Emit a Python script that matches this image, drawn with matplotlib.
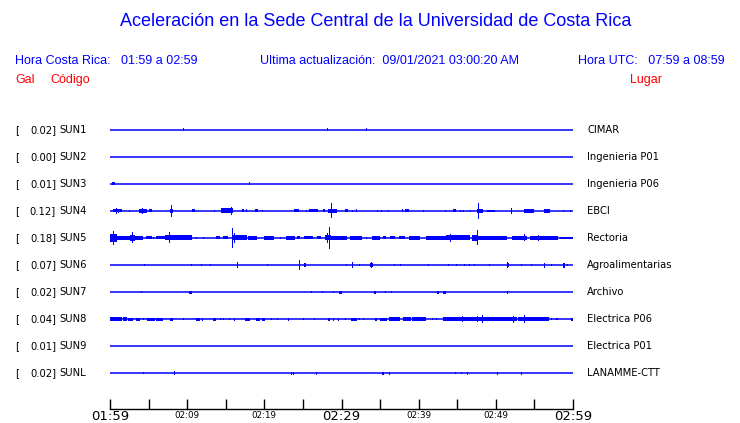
import matplotlib
matplotlib.use("Agg")
import matplotlib.pyplot as plt
from matplotlib.transforms import blended_transform_factory

# ---------------- data ----------------
codes = ["SUN1", "SUN2", "SUN3", "SUN4", "SUN5", "SUN6", "SUN7", "SUN8", "SUN9", "SUNL"]
peaks = ["0.02", "0.00", "0.01", "0.12", "0.18", "0.07", "0.02", "0.04", "0.01", "0.02"]
places = ["CIMAR", "Ingenieria P01", "Ingenieria P06", "EBCI", "Rectoria",
          "Agroalimentarias", "Archivo", "Electrica P06", "Electrica P01", "LANAMME-CTT"]

# bursts per station: (start minute, end minute, half amplitude in px) minutes after 01:59
sun1 = [(9.4, 9.4, 1.5), (28.1, 28.1, 1.5), (33.2, 33.2, 1.5)]
sun2 = []
sun3 = [(0.3, 0.6, 1.5), (18.0, 18.1, 1.5)]
sun4 = [(0.4, 1.5, 1.5), (0.8, 0.8, 3.0), (1.1, 1.1, 2.0), (2.5, 2.5, 1.0), (3.8, 4.8, 2.0),
        (4.2, 4.2, 3.0), (5.0, 5.4, 1.5), (7.8, 8.2, 2.0), (7.9, 7.9, 6.0), (10.6, 11.0, 1.5),
        (13.5, 13.5, 1.0), (14.4, 15.9, 2.5), (15.7, 15.7, 4.0), (17.1, 17.4, 1.5), (17.6, 17.8, 1.5),
        (18.8, 19.2, 1.5), (19.7, 19.7, 1.0), (23.8, 24.5, 1.5), (25.4, 25.4, 1.0), (25.8, 27.0, 1.5),
        (27.6, 27.9, 1.5), (28.2, 29.4, 2.0), (28.7, 28.7, 7.5), (30.5, 30.9, 1.5), (31.3, 31.3, 1.0),
        (31.9, 31.9, 1.5), (34.6, 34.6, 1.0), (35.1, 35.1, 1.0), (36.0, 36.0, 1.0), (37.8, 37.8, 1.5),
        (38.2, 38.7, 1.5), (40.5, 40.5, 1.0), (43.4, 43.4, 1.0), (44.4, 44.9, 1.5), (45.4, 45.4, 1.0),
        (45.7, 45.7, 1.0), (46.6, 46.6, 1.0), (47.5, 48.4, 2.0), (47.7, 47.7, 8.0), (48.8, 49.9, 1.0),
        (52.0, 52.0, 3.0), (53.6, 54.9, 2.0), (56.2, 57.0, 2.0), (58.7, 58.7, 1.0), (59.6, 59.6, 1.0)]
sun5 = [(0.0, 0.9, 4.0), (0.4, 0.4, 7.0), (0.9, 2.6, 2.0), (2.6, 3.2, 3.0), (2.9, 2.9, 5.5),
        (3.2, 4.3, 2.0), (4.7, 5.4, 1.5), (5.6, 5.6, 1.0), (6.0, 7.1, 1.5), (7.1, 7.8, 2.5),
        (7.6, 7.6, 5.5), (7.8, 10.6, 2.5), (11.2, 11.2, 1.0), (12.0, 12.0, 1.0), (13.8, 14.2, 1.5),
        (14.7, 15.3, 1.5), (15.8, 15.8, 10.0), (15.8, 17.7, 2.5), (16.1, 16.1, 5.0), (17.9, 19.0, 2.0),
        (19.9, 21.2, 2.0), (22.0, 22.0, 1.0), (22.8, 24.0, 2.0), (24.2, 24.6, 1.5), (25.1, 26.3, 1.5),
        (26.8, 27.4, 1.5), (27.9, 28.7, 2.5), (28.1, 28.1, 5.0), (28.4, 28.4, 11.0), (28.7, 30.7, 2.0),
        (31.1, 32.6, 2.0), (33.2, 33.2, 1.0), (34.0, 35.0, 2.0), (35.4, 35.8, 1.5), (36.3, 36.9, 1.5),
        (37.4, 38.2, 1.5), (38.8, 40.2, 2.0), (41.0, 43.6, 2.0), (43.6, 46.6, 2.5), (44.1, 44.1, 4.0),
        (46.9, 47.7, 3.0), (47.5, 47.5, 7.5), (47.7, 51.4, 2.0), (52.1, 54.0, 2.0), (53.6, 53.6, 3.5),
        (54.4, 58.1, 2.0), (55.5, 55.5, 3.0), (58.3, 60.0, 1.0)]
sun6 = [(4.4, 4.4, 1.0), (10.5, 10.5, 1.0), (11.8, 11.8, 0.8), (13.0, 13.0, 1.0), (16.5, 16.5, 3.3),
        (20.3, 20.4, 1.0), (24.5, 24.5, 5.3), (25.1, 25.4, 1.8), (30.6, 30.6, 0.8), (31.4, 31.4, 3.0),
        (32.3, 32.3, 1.0), (33.7, 34.1, 2.0), (33.8, 33.8, 3.0), (36.8, 36.8, 1.0), (37.6, 37.6, 1.0),
        (41.2, 41.2, 0.8), (43.8, 43.8, 1.0), (44.8, 44.9, 1.0), (45.9, 45.9, 1.0), (46.5, 46.5, 1.0),
        (47.2, 47.2, 1.0), (49.1, 49.1, 1.0), (51.4, 51.7, 2.0), (51.5, 51.5, 3.0), (53.2, 53.2, 0.8),
        (54.6, 54.6, 1.0), (56.3, 56.3, 2.5), (57.2, 57.2, 1.0), (58.7, 58.9, 2.5), (59.2, 59.2, 1.0)]
sun7 = [(4.0, 4.1, 1.0), (10.3, 10.6, 1.5), (26.1, 26.1, 1.0), (27.5, 27.5, 1.0), (28.9, 28.9, 1.0),
        (29.7, 30.0, 1.5), (34.2, 34.5, 1.5), (35.6, 35.6, 0.8), (36.4, 36.4, 1.0), (42.4, 42.6, 1.5),
        (43.1, 43.5, 1.5), (51.4, 51.4, 1.5)]
sun8 = [(0.0, 1.5, 1.7), (1.7, 2.2, 1.7), (2.3, 3.0, 1.5), (3.4, 3.9, 1.5), (4.3, 4.3, 1.0),
        (4.8, 5.8, 1.5), (6.0, 6.9, 1.5), (7.8, 8.1, 1.5), (9.5, 9.5, 0.8), (11.1, 11.7, 1.5),
        (11.9, 12.1, 1.5), (13.3, 13.8, 1.5), (14.3, 14.3, 1.0), (14.6, 14.6, 0.8), (15.4, 15.4, 0.8),
        (16.1, 16.1, 1.5), (17.5, 18.1, 1.5), (18.9, 19.4, 1.5), (19.7, 20.1, 1.5), (20.9, 20.9, 1.0),
        (21.7, 21.7, 0.8), (23.1, 23.1, 1.5), (25.0, 25.0, 0.8), (26.5, 26.5, 0.8), (28.2, 28.5, 1.5),
        (28.9, 28.9, 1.5), (29.5, 29.7, 1.5), (30.4, 30.4, 1.0), (31.2, 32.0, 1.5), (32.3, 32.3, 1.0),
        (32.8, 32.8, 1.0), (34.3, 34.6, 1.5), (35.0, 35.9, 1.5), (36.1, 37.6, 1.7), (38.0, 39.0, 1.7),
        (39.2, 41.0, 1.7), (41.7, 41.7, 1.0), (42.3, 42.3, 1.0), (43.2, 47.9, 1.7), (45.6, 45.6, 3.0),
        (47.5, 47.5, 3.0), (47.9, 52.7, 1.7), (48.2, 48.2, 4.0), (52.2, 52.2, 3.5), (52.9, 56.9, 1.7),
        (53.7, 53.7, 4.0), (57.2, 57.2, 1.0), (57.8, 58.1, 1.0), (59.8, 60.0, 1.5)]
sun9 = []
sunl = [(4.3, 4.3, 0.8), (8.3, 8.3, 2.0), (23.4, 23.4, 1.5), (23.7, 23.9, 1.5), (26.7, 26.7, 1.5),
        (35.2, 35.5, 1.5), (36.1, 36.1, 1.5), (44.7, 44.7, 0.8), (45.5, 45.5, 0.8), (46.2, 46.2, 1.5),
        (50.2, 50.2, 1.5), (53.3, 53.3, 1.5)]
traces = [sun1, sun2, sun3, sun4, sun5, sun6, sun7, sun8, sun9, sunl]

tick_minutes = list(range(0, 61, 5))
major_labels = {0: "01:59", 30: "02:29", 60: "02:59"}
minor_labels = {10: "02:09", 20: "02:19", 40: "02:39", 50: "02:49"}

# ---------------- figure ----------------
W, H = 740, 423
fig = plt.figure(figsize=(W / 100, H / 100), dpi=100)
fig.patch.set_facecolor("white")

BLUE = "#0000ff"
RED = "#ff0000"
ROW_PX = 27.0

ax = fig.add_axes([110 / W, (H - 409) / H, 463 / W, (409 - 117) / H])
ax.set_xlim(0, 60)
ax.set_ylim((409 - 130) / ROW_PX, (117 - 130) / ROW_PX)
ax.patch.set_alpha(0)

for i, bursts in enumerate(traces):
    ax.plot([0, 60], [i, i], color=BLUE, lw=1.1, solid_capstyle="butt")
    for t0, t1, a in bursts:
        h = a / ROW_PX
        w = max(t1 - t0, 0.13)
        ax.bar(t0, 2 * h, width=w, bottom=i - h, align="edge", color=BLUE, linewidth=0)

for s in ["left", "right", "top"]:
    ax.spines[s].set_visible(False)
ax.spines["bottom"].set_linewidth(1.0)
ax.set_yticks([])
ax.set_xticks(tick_minutes)
ax.set_xticklabels([""] * len(tick_minutes))
ax.tick_params(axis="x", direction="in", length=7.2, width=1.0, color="black")

# tick labels just under the axis line (x in data, y in figure pixels)
trans_lab = blended_transform_factory(ax.transData, fig.transFigure)
for m, lab in major_labels.items():
    ax.text(m, 1 - 416 / H, lab, transform=trans_lab, ha="center", va="center",
            fontsize=9.5, family="DejaVu Sans", clip_on=False)
for m, lab in minor_labels.items():
    ax.text(m, 1 - 415 / H, lab, transform=trans_lab, ha="center", va="center",
            fontsize=6.3, family="DejaVu Sans", clip_on=False)

# left / right labels
tr = blended_transform_factory(fig.transFigure, ax.transData)
for i in range(len(codes)):
    ax.text(15 / W, i, "[", transform=tr, ha="left", va="center", fontsize=7.2, family="DejaVu Sans")
    ax.text(56 / W, i, peaks[i] + "]", transform=tr, ha="right", va="center", fontsize=7.2,
            family="DejaVu Sans")
    ax.text(59 / W, i, codes[i], transform=tr, ha="left", va="center", fontsize=7.2,
            family="DejaVu Sans")
    ax.text(587 / W, i, places[i], transform=tr, ha="left", va="center", fontsize=7.2,
            family="DejaVu Sans")

# header
def ftext(x, y, s, **kw):
    fig.text(x / W, 1 - y / H, s, family="Liberation Sans", va="center", **kw)

ftext(376, 22, "Aceleración en la Sede Central de la Universidad de Costa Rica",
      ha="center", fontsize=13, color=BLUE)
ftext(15, 61, "Hora Costa Rica:   01:59 a 02:59", ha="left", fontsize=9, color=BLUE)
ftext(260, 61, "Ultima actualización:  09/01/2021 03:00:20 AM", ha="left", fontsize=9, color=BLUE)
ftext(725, 61, "Hora UTC:   07:59 a 08:59", ha="right", fontsize=9, color=BLUE)
ftext(15, 80, "Gal", ha="left", fontsize=9, color=RED)
ftext(50, 80, "Código", ha="left", fontsize=9, color=RED)
ftext(630, 80, "Lugar", ha="left", fontsize=9, color=RED)

fig.savefig("out.png", dpi=100, facecolor="white")
